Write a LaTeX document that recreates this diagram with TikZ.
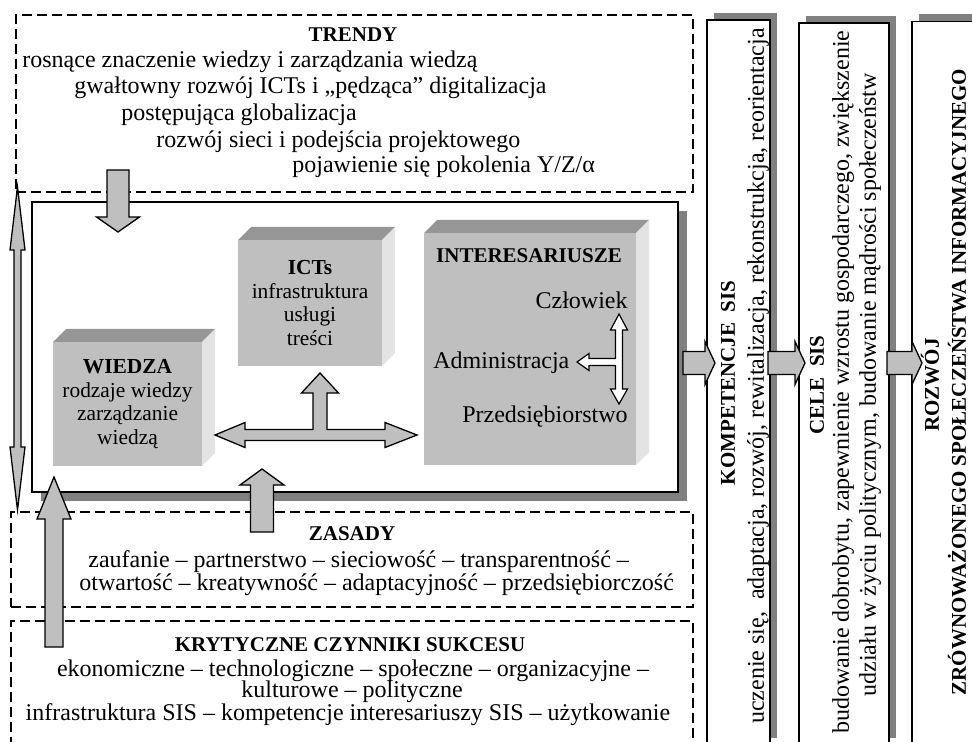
\documentclass[tikz,border=0pt]{standalone}
\usepackage{fontspec}
\setmainfont{Liberation Serif}
\usetikzlibrary{calc,shadows}

\definecolor{frontgray}{gray}{0.75}
\definecolor{topgray}{gray}{0.59}
\definecolor{sidegray}{gray}{0.89}
\definecolor{shadegray}{gray}{0.5}

% block arrow: from, to, shaft half width, head half width, head length (px)
\newcommand{\blkarrow}[6][]{%
  \filldraw[blk,#1] let \p1=(#2), \p2=(#3),
    \n1={atan2(\y2-\y1,\x2-\x1)}, \n2={veclen(\x2-\x1,\y2-\y1)} in
    [shift={(\p1)}, rotate=\n1]
    (0pt,{#4*0.5pt}) -- ({\n2*1pt-#6*0.5pt},{#4*0.5pt})
    -- ({\n2*1pt-#6*0.5pt},{#5*0.5pt}) -- ({\n2*1pt},0pt)
    -- ({\n2*1pt-#6*0.5pt},{-#5*0.5pt}) -- ({\n2*1pt-#6*0.5pt},{-#4*0.5pt})
    -- (0pt,{-#4*0.5pt}) -- cycle;}
% same, with a head at both ends
\newcommand{\dblarrow}[6][]{%
  \filldraw[blk,#1] let \p1=(#2), \p2=(#3),
    \n1={atan2(\y2-\y1,\x2-\x1)}, \n2={veclen(\x2-\x1,\y2-\y1)} in
    [shift={(\p1)}, rotate=\n1]
    (0pt,0pt) -- ({#6*0.5pt},{#5*0.5pt}) -- ({#6*0.5pt},{#4*0.5pt})
    -- ({\n2*1pt-#6*0.5pt},{#4*0.5pt}) -- ({\n2*1pt-#6*0.5pt},{#5*0.5pt})
    -- ({\n2*1pt},0pt)
    -- ({\n2*1pt-#6*0.5pt},{-#5*0.5pt}) -- ({\n2*1pt-#6*0.5pt},{-#4*0.5pt})
    -- ({#6*0.5pt},{-#4*0.5pt}) -- ({#6*0.5pt},{-#5*0.5pt}) -- cycle;}
% top and side faces of a cube node
\newcommand{\cubefaces}[1]{%
  \fill[topgray] (#1.north west) -- ++(13,-13) -- ($(#1.north east)+(13,-13)$)
    -- (#1.north east) -- cycle;
  \fill[sidegray] (#1.north east) -- ++(13,-13) -- ($(#1.south east)+(13,-13)$)
    -- (#1.south east) -- cycle;}

\begin{document}
\begin{tikzpicture}[x=0.5pt, y=-0.5pt,
  dbox/.style={draw, dash pattern=on 5pt off 2.5pt, line width=0.6pt, inner sep=0pt},
  mbox/.style={draw, line width=0.8pt, fill=white, inner sep=0pt, outer sep=0pt,
    drop shadow={fill=shadegray, opacity=1, shadow xshift=4.5pt, shadow yshift=-4.5pt}},
  col/.style={draw, line width=0.8pt, fill=white, inner sep=0pt, outer sep=0pt,
    drop shadow={fill=shadegray, opacity=1, shadow xshift=3.5pt, shadow yshift=3.5pt}},
  cube/.style={fill=frontgray, inner sep=0pt, outer sep=0pt, align=center,
    font=\fontsize{10.7}{11.75}\selectfont},
  lb/.style={inner sep=0pt, font=\fontsize{12}{13}\selectfont},
  ttl/.style={inner sep=0pt, font=\fontsize{10.5}{12}\selectfont\bfseries},
  vt/.style={rotate=90},
  blk/.style={draw, fill=frontgray, line width=0.65pt},
  wblk/.style={draw, fill=white, line width=0.6pt}]

  \useasboundingbox (0,0) rectangle (972,742);

  % dashed frames
  \node[dbox, minimum width=338.5pt, minimum height=88.5pt] (trendy) at (354.5,103.5) {};
  \node[dbox, minimum width=341pt, minimum height=47.5pt] (zasady) at (352,559.5) {};
  \node[dbox, minimum width=341pt, minimum height=70pt] (kryt) at (352,691) {};

  \node[ttl, anchor=base] (trttl) at (353,42) {TRENDY};
  \node[lb, anchor=base west] (tr1) at (22,67.5) {rosnące znaczenie wiedzy i zarządzania wiedzą};
  \node[lb, anchor=base west] (tr2) at (74,93.5) {gwałtowny rozwój ICTs i „pędząca” digitalizacja};
  \node[lb, anchor=base west] (tr3) at (121,120.5) {postępująca globalizacja};
  \node[lb, anchor=base west] (tr4) at (156,147.5) {rozwój sieci i podejścia projektowego};
  \node[lb, anchor=base west] (tr5) at (292,172.5) {pojawienie się pokolenia Y/Z/α};

  \node[ttl, anchor=base] (zattl) at (352,540) {ZASADY};
  \node[lb, anchor=base west] (za1) at (88,567) {zaufanie – partnerstwo – sieciowość – transparentność –};
  \node[lb, anchor=base west] (za2) at (79,590) {otwartość – kreatywność – adaptacyjność – przedsiębiorczość};

  \node[ttl, anchor=base] (krttl) at (350,651) {KRYTYCZNE CZYNNIKI SUKCESU};
  \node[lb, anchor=base] (kr1) at (353,676.5) {ekonomiczne – technologiczne – społeczne – organizacyjne –};
  \node[lb, anchor=base] (kr2) at (352,697.5) {kulturowe – polityczne};
  \node[lb, anchor=base] (kr3) at (348,720.5) {infrastruktura SIS – kompetencje interesariuszy SIS – użytkowanie};

  % main frame and cubes
  \node[mbox, minimum width=323pt, minimum height=145pt] (core) at (355,347) {};

  \node[cube, minimum width=74.5pt, minimum height=62pt] (wiedza) at (127.5,404)
    {\textbf{WIEDZA}\\rodzaje wiedzy\\zarządzanie\\wiedzą};
  \cubefaces{wiedza}
  \node[cube, minimum width=72pt, minimum height=63pt] (icts) at (310,303)
    {\textbf{ICTs}\\infrastruktura\\usługi\\treści};
  \cubefaces{icts}
  \node[cube, minimum width=106pt, minimum height=116pt] (inter) at (530,349) {};
  \cubefaces{inter}

  \node[ttl, anchor=base] (interttl) at (529,263) {INTERESARIUSZE};
  \node[lb, anchor=base east] (czl) at (628,308.5) {Człowiek};
  \node[lb, anchor=base west] (adm) at (433,368.5) {Administracja};
  \node[lb, anchor=base east] (prz) at (628,422.5) {Przedsiębiorstwo};

  \coordinate (hub) at (320,435);
  \coordinate (hub2) at (619,362);
  \begin{scope}[shift={(hub)}]
    \filldraw[blk] (-105,0) -- (-75,-12.5) -- (-75,-5.5) -- (-7,-5.5) -- (-7,-42)
      -- (-18.5,-42) -- (0,-62) -- (18.5,-42) -- (7,-42) -- (7,-5.5) -- (65,-5.5)
      -- (65,-12.5) -- (97,0) -- (65,12.5) -- (65,5.5) -- (-75,5.5) -- (-75,12.5) -- cycle;
  \end{scope}
  \begin{scope}[shift={(hub2)}]
    \filldraw[wblk] (0,-48) -- (8.5,-32) -- (3.5,-32) -- (3.5,27) -- (8.5,27) -- (0,42)
      -- (-8.5,27) -- (-3.5,27) -- (-3.5,3.5) -- (-30,3.5) -- (-30,8.5) -- (-42,0)
      -- (-30,-8.5) -- (-30,-3.5) -- (-3.5,-3.5) -- (-3.5,-32) -- (-8.5,-32) -- cycle;
  \end{scope}

  % columns
  \node[col, minimum width=31.5pt, minimum height=362.5pt] (c1) at (738.5,382.5) {};
  \node[col, minimum width=45pt, minimum height=361pt] (c2) at (844,384) {};
  \node[col, minimum width=31.5pt, minimum height=362pt] (c3) at (943.5,383.5) {};

  \node[ttl, vt] (c1ttl) at (728,383) {KOMPETENCJE\ \ SIS};
  \node[lb, vt] (c1txt) at (758,376)
    {uczenie się,\ \ adaptacja, rozwój, rewitalizacja, rekonstrukcja, reorientacja};
  \node[ttl, vt] (c2ttl) at (817,385) {CELE\ \ SIS};
  \node[lb, vt] (c2txt) at (843,382)
    {budowanie dobrobytu, zapewnienie wzrostu gospodarczego, zwiększenie};
  \node[lb, vt] (c2txtb) at (870,385)
    {udziału w życiu politycznym, budowanie mądrości społeczeństw};
  \node[ttl, vt] (c3ttl) at (930,385) {ROZWÓJ};
  \node[ttl, vt] (c3txt) at (957,382) {ZRÓWNOWAŻONEGO SPOŁECZEŃSTWA INFORMACYJNEGO};

  % block arrows
  \coordinate (tr-a) at (118,170);  \coordinate (tr-b) at (118,232);
  \coordinate (za-a) at (262,532);  \coordinate (za-b) at (262,469);
  \coordinate (kr-a) at (54,647);   \coordinate (kr-b) at (54,477);
  \coordinate (c1-a) at (683,363);  \coordinate (c1-b) at (715,363);
  \coordinate (c2-a) at (768,363);  \coordinate (c2-b) at (805,363);
  \coordinate (c3-a) at (887,363);  \coordinate (c3-b) at (922,363);
  \coordinate (lf-a) at (17.5,187); \coordinate (lf-b) at (17.5,510);

  \blkarrow{tr-a}{tr-b}{11}{21.5}{15}
  \blkarrow{za-a}{za-b}{11.5}{22}{16}
  \blkarrow{kr-a}{kr-b}{9}{17}{42}
  \blkarrow{c1-a}{c1-b}{11.5}{21.5}{10}
  \blkarrow{c2-a}{c2-b}{11.5}{21.5}{10}
  \blkarrow{c3-a}{c3-b}{11.5}{21.5}{10}
  \dblarrow{lf-a}{lf-b}{3.5}{7.5}{63}
\end{tikzpicture}
\end{document}
